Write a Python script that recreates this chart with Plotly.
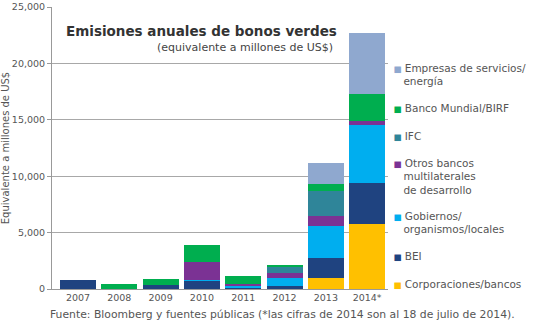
import plotly.graph_objects as go

years = ["2007", "2008", "2009", "2010", "2011", "2012", "2013", "2014*"]

corporaciones = [0, 0, 0, 0, 0, 0, 950, 5800]
bei = [800, 0, 360, 710, 80, 270, 1820, 3600]
gobiernos = [0, 0, 0, 120, 200, 740, 2800, 5100]
otros_bancos = [0, 0, 0, 1530, 140, 390, 910, 380]
ifc = [0, 0, 0, 0, 0, 590, 2210, 0]
banco_mundial = [0, 400, 500, 1500, 770, 180, 650, 2420]
empresas = [0, 0, 0, 0, 0, 0, 1820, 5400]

series = [
    (["Corporaciones/bancos"], corporaciones, "#FFC000"),
    (["BEI"], bei, "#1F4380"),
    (["Gobiernos/", "organismos/locales"], gobiernos, "#00AEEF"),
    (["Otros bancos", "multilaterales", "de desarrollo"], otros_bancos, "#7B3294"),
    (["IFC"], ifc, "#2F8599"),
    (["Banco Mundial/BIRF"], banco_mundial, "#00AE4F"),
    (["Empresas de servicios/", "energía"], empresas, "#8FA8CF"),
]

FONT = "DejaVu Sans"
INDENT = "\u00a0\u00a0\u00a0"

fig = go.Figure()
for lines, vals, color in series:
    fig.add_trace(go.Bar(
        x=years, y=vals, name=" ".join(lines),
        marker=dict(color=color, line=dict(width=0)), showlegend=False,
    ))

# legend entries, top to bottom (reverse of stacking order)
for i, (lines, vals, color) in enumerate(reversed(series)):
    label = (f"<span style='color:{color};font-size:8.5px'>■</span> " + lines[0]
             + "".join("<br>" + INDENT + ln for ln in lines[1:]))
    fig.add_trace(go.Scatter(
        x=[None], y=[None], mode="markers", name=label, legendgroup=f"g{i}",
        marker=dict(color="rgba(0,0,0,0)", size=1), hoverinfo="skip",
    ))

fig.update_layout(
    width=540, height=326,
    margin=dict(l=52, r=152, t=7, b=37),
    barmode="stack", bargap=0.13,
    plot_bgcolor="white", paper_bgcolor="white",
    font=dict(family=FONT, size=10, color="#555555"),
    showlegend=True,
    legend=dict(
        x=0.897, xanchor="left", y=0.833, yanchor="top",
        traceorder="grouped", tracegroupgap=9,
        font=dict(family=FONT, size=10.5, color="#555555"),
        bgcolor="rgba(0,0,0,0)", itemclick=False, itemdoubleclick=False,
    ),
    xaxis=dict(
        type="category", range=[-0.63, 7.505], automargin=False,
        showline=True, linecolor="#999999", linewidth=1,
        ticks="", showgrid=False,
        tickfont=dict(family=FONT, size=9.5, color="#555555"),
    ),
    yaxis=dict(
        range=[0, 25000], tickvals=[0, 5000, 10000, 15000, 20000, 25000],
        tickformat=",", showline=True, linecolor="#999999", linewidth=1,
        ticks="outside", ticklen=4, tickcolor="#999999", automargin=False,
        showgrid=True, gridcolor="#A8A8A8", gridwidth=1,
        zeroline=False,
        tickfont=dict(family=FONT, size=9.5, color="#555555"),
        title=dict(text="Equivalente a millones de US$",
                   font=dict(family=FONT, size=10, color="#555555"), standoff=2),
    ),
    annotations=[
        dict(text="<b>Emisiones anuales de bonos verdes</b>", xref="paper", yref="paper",
             x=0.036, y=0.915, xanchor="left", yanchor="middle", showarrow=False,
             font=dict(family=FONT, size=13.5, color="#333333")),
        dict(text="(equivalente a millones de US$)", xref="paper", yref="paper",
             x=0.842, y=0.858, xanchor="right", yanchor="middle", showarrow=False,
             font=dict(family=FONT, size=11, color="#444444")),
        dict(text="Fuente: Bloomberg y fuentes públicas (*las cifras de 2014 son al 18 de julio de 2014).",
             xref="paper", yref="paper", x=-0.012, y=-0.092, xanchor="left", yanchor="middle",
             showarrow=False, font=dict(family=FONT, size=10.8, color="#555555")),
    ],
)

fig.write_html("out.html")
